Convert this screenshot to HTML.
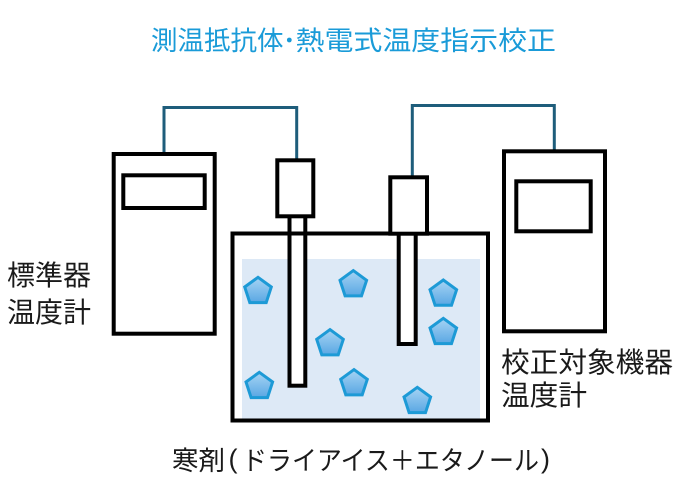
<!DOCTYPE html>
<html><head><meta charset="utf-8"><style>
html,body{margin:0;padding:0;background:#fff;}
svg{display:block;}
text{font-family:"Liberation Sans","Noto Sans CJK JP",sans-serif;}
</style></head><body>
<svg width="683" height="489" viewBox="0 0 683 489" xmlns="http://www.w3.org/2000/svg">
<defs>
<linearGradient id="g" x1="0" y1="0" x2="0" y2="1">
<stop offset="0" stop-color="#a6d4f4"/>
<stop offset="1" stop-color="#5aa7e3"/>
</linearGradient>
<polygon id="p" points="0,-14 13.3,-4.3 8.2,11.3 -8.2,11.3 -13.3,-4.3" fill="url(#g)" stroke="#1d9ad6" stroke-width="3" stroke-linejoin="miter"/>
</defs>
<rect width="683" height="489" fill="#fff"/>
<text x="151" y="50" font-size="26.5" fill="#1a9bd8" textLength="132.5" lengthAdjust="spacingAndGlyphs">測温抵抗体</text>
<circle cx="289.3" cy="40" r="2.4" fill="#1a9bd8"/>
<text x="295.5" y="50" font-size="26.5" fill="#1a9bd8" textLength="260.5" lengthAdjust="spacingAndGlyphs">熱電式温度指示校正</text>

<!-- wires -->
<polyline points="164,154 164,107.5 296.7,107.5 296.7,160" fill="none" stroke="#1e5d7b" stroke-width="3"/>
<polyline points="412.3,177 412.3,105.5 554.3,105.5 554.3,151" fill="none" stroke="#1e5d7b" stroke-width="3"/>

<!-- liquid -->
<rect x="242" y="259" width="238" height="160" fill="#dde9f6"/>

<!-- pentagons -->
<use href="#p" x="258" y="291.3"/>
<use href="#p" x="353.3" y="284.6"/>
<use href="#p" x="443.3" y="294"/>
<use href="#p" x="330" y="343.6"/>
<use href="#p" x="443.3" y="332.3"/>
<use href="#p" x="259.3" y="386.3"/>
<use href="#p" x="354" y="383.6"/>
<use href="#p" x="417.3" y="401.3"/>

<!-- stems -->
<rect x="289.5" y="216" width="15.8" height="169.7" fill="#fff" stroke="#000" stroke-width="4"/>
<rect x="398.7" y="233" width="17" height="111" fill="#fff" stroke="#000" stroke-width="4"/>

<!-- tank -->
<rect x="232.5" y="233.5" width="255.5" height="187" fill="none" stroke="#000" stroke-width="4"/>

<!-- heads -->
<rect x="277.3" y="160.3" width="36" height="56" fill="#fff" stroke="#000" stroke-width="4"/>
<rect x="390.3" y="177.3" width="36.7" height="56.4" fill="#fff" stroke="#000" stroke-width="4"/>

<!-- devices -->
<rect x="113.7" y="154" width="101" height="179.7" fill="#fff" stroke="#000" stroke-width="4"/>
<rect x="123.3" y="175.3" width="81.4" height="32.7" fill="#fff" stroke="#000" stroke-width="4"/>
<rect x="504" y="151.3" width="101" height="180" fill="#fff" stroke="#000" stroke-width="4"/>
<rect x="516.3" y="181.3" width="74.4" height="50" fill="#fff" stroke="#000" stroke-width="4"/>

<!-- labels -->
<text x="7" y="285" font-size="28" fill="#1a1a1a" textLength="84" lengthAdjust="spacingAndGlyphs">標準器</text>
<text x="7" y="322" font-size="28" fill="#1a1a1a" textLength="84" lengthAdjust="spacingAndGlyphs">温度計</text>
<text x="501" y="372" font-size="28" fill="#1a1a1a" textLength="172" lengthAdjust="spacingAndGlyphs">校正対象機器</text>
<text x="501" y="405" font-size="28" fill="#1a1a1a" textLength="86" lengthAdjust="spacingAndGlyphs">温度計</text>
<text x="172" y="470" font-size="26.5" fill="#1a1a1a" textLength="53" lengthAdjust="spacingAndGlyphs">寒剤</text>
<text x="228.5" y="468" font-size="27" fill="#1a1a1a">(</text>
<text x="242" y="470" font-size="26.5" fill="#1a1a1a" textLength="297" lengthAdjust="spacingAndGlyphs">ドライアイス＋エタノール</text>
<text x="541" y="468" font-size="27" fill="#1a1a1a">)</text>
</svg>
</body></html>
